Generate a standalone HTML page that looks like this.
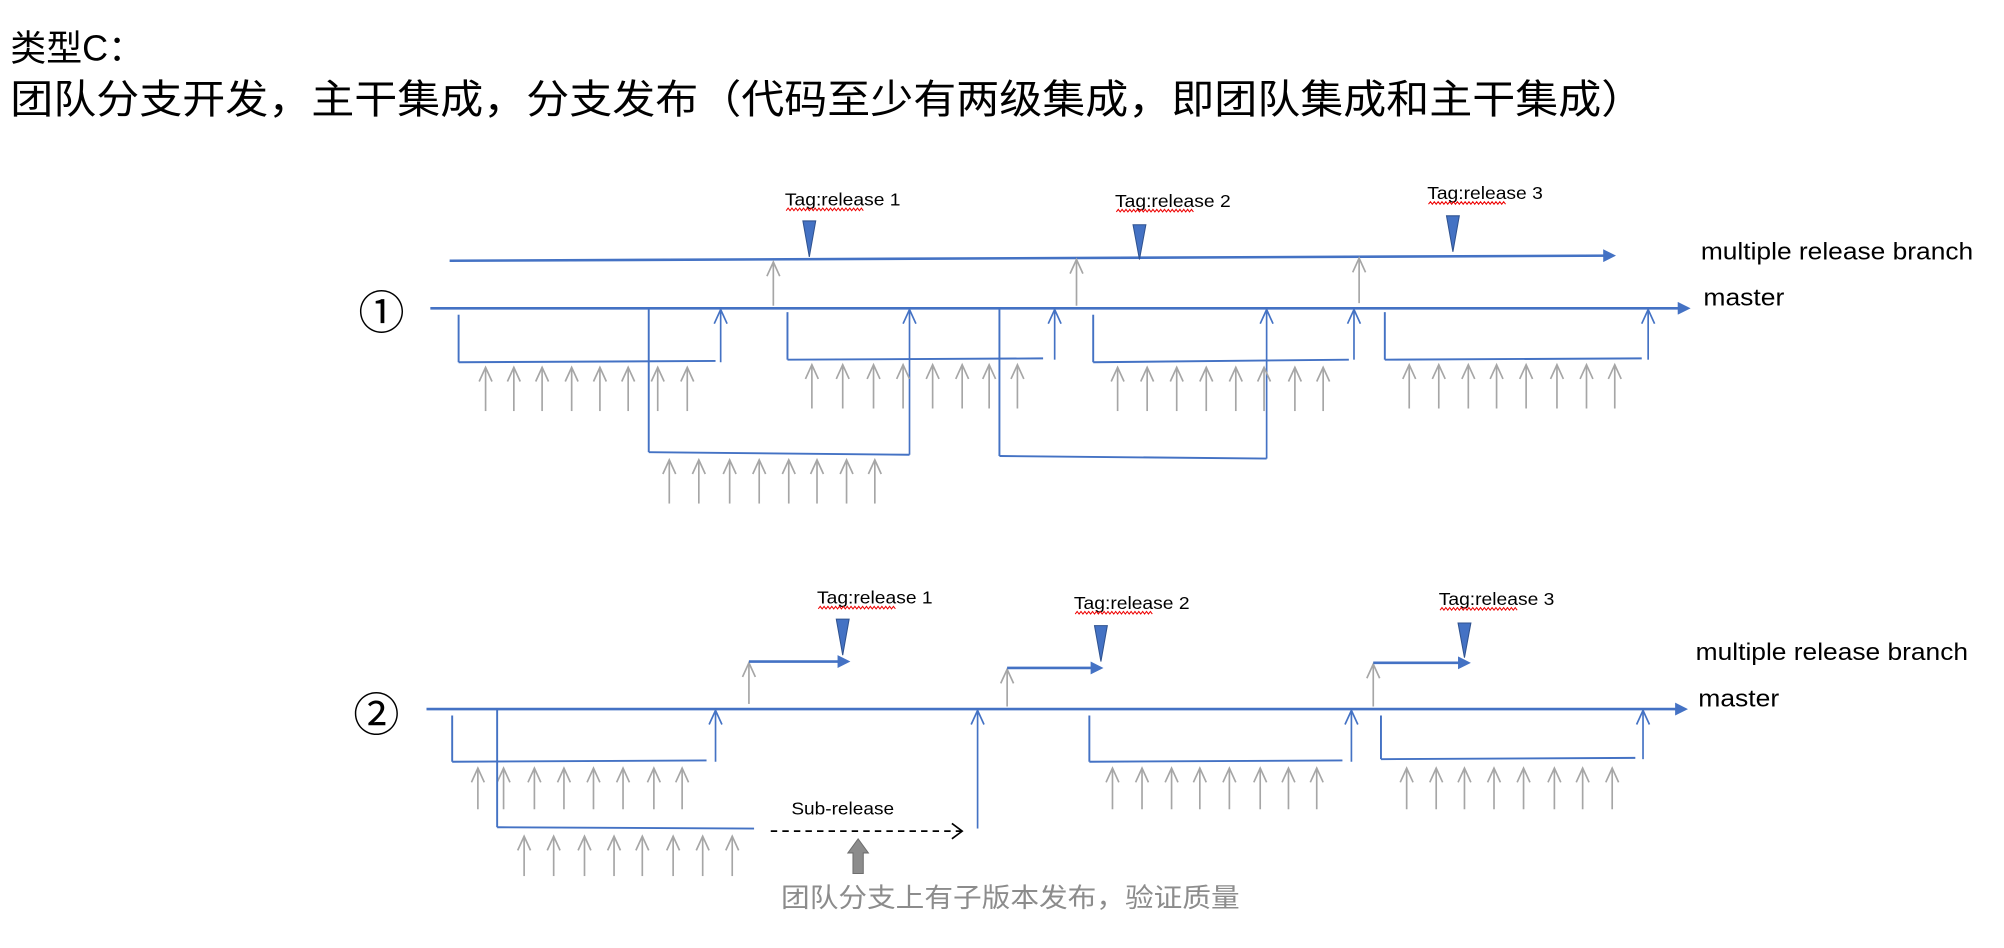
<!DOCTYPE html>
<html><head><meta charset="utf-8"><style>
html,body{margin:0;padding:0;background:#fff;}
svg{display:block;}
text{font-family:"Liberation Sans","Noto Sans CJK SC",sans-serif;}
</style></head><body>
<svg id="s" width="2004" height="948" viewBox="0 0 1560 738" preserveAspectRatio="none" xmlns="http://www.w3.org/2000/svg">
<defs>
<marker id="tri" markerWidth="10" markerHeight="10" refX="7" refY="5" orient="auto" markerUnits="userSpaceOnUse"><path d="M0,0 L10,5 L0,10 z" fill="#4472C4"/></marker>
</defs>
<text x="8" y="47" font-size="28">类型C：</text>
<text x="8" y="88" font-size="31" textLength="1272" lengthAdjust="spacingAndGlyphs">团队分支开发，主干集成，分支发布（代码至少有两级集成，即团队集成和主干集成）</text>

<text x="279" y="256" font-size="36">①</text>
<text x="275" y="569" font-size="36">②</text>

<g font-size="14" fill="#000">
<text x="611" y="160" textLength="90" lengthAdjust="spacingAndGlyphs">Tag:release 1</text>
<text x="868" y="161" textLength="90" lengthAdjust="spacingAndGlyphs">Tag:release 2</text>
<text x="1111" y="155" textLength="90" lengthAdjust="spacingAndGlyphs">Tag:release 3</text>
<text x="636" y="470" textLength="90" lengthAdjust="spacingAndGlyphs">Tag:release 1</text>
<text x="836" y="474" textLength="90" lengthAdjust="spacingAndGlyphs">Tag:release 2</text>
<text x="1120" y="471" textLength="90" lengthAdjust="spacingAndGlyphs">Tag:release 3</text>
<text x="616" y="634" textLength="80" lengthAdjust="spacingAndGlyphs">Sub-release</text>
</g>
<g font-size="19" fill="#000">
<text x="1324" y="202" textLength="212" lengthAdjust="spacingAndGlyphs">multiple release branch</text>
<text x="1326" y="238" textLength="63" lengthAdjust="spacingAndGlyphs">master</text>
<text x="1320" y="514" textLength="212" lengthAdjust="spacingAndGlyphs">multiple release branch</text>
<text x="1322" y="550" textLength="63" lengthAdjust="spacingAndGlyphs">master</text>
</g>
<text x="608" y="706" font-size="21" fill="#8c8c8c" textLength="357" lengthAdjust="spacingAndGlyphs">团队分支上有子版本发布，验证质量</text>

<g id="g"></g>
</svg>
<script>
var g=document.getElementById('g'),NS="http://www.w3.org/2000/svg";
function el(t,a){var e=document.createElementNS(NS,t);for(var k in a)e.setAttribute(k,a[k]);g.appendChild(e);return e;}
var B="#4472C4",G="#a6a6a6";
function line(x1,y1,x2,y2,c,w,extra){var a={x1:x1,y1:y1,x2:x2,y2:y2,stroke:c,'stroke-width':w||1.5};for(var k in extra)a[k]=extra[k];return el('line',a);}
function up(x,y1,y2,c){line(x,y1,x,y2,c,1.3);el('path',{d:'M'+(x-5)+','+(y2+11)+' L'+x+','+y2+' L'+(x+5)+','+(y2+11),fill:'none',stroke:c,'stroke-width':1.3});}
function grays(xs,y1,y2){xs.forEach(function(x){up(x,y1,y2,G);});}
function wavy(x,y,w){var d='M'+x+','+y;for(var i=0;i<w;i+=3)d+=' l1.5,-2 l1.5,2';el('path',{d:d,fill:'none',stroke:'#e00','stroke-width':0.8});}
function tri(x,y1,y2){el('path',{d:'M'+(x-5)+','+y1+' L'+(x+5)+','+y1+' L'+x+','+y2+' z',fill:B,stroke:'#2f528f','stroke-width':0.8});}
wavy(612,164,60);wavy(869,165,60);wavy(1112,159,60);wavy(637,474,60);wavy(837,478,60);wavy(1121,475,60);
// diagram 1
line(350,203,1255,199,B,2,{'marker-end':'url(#tri)'});
line(335,240,1313,240,B,2,{'marker-end':'url(#tri)'});
tri(630,172,200);tri(887,175,202);tri(1131,168,196);
up(602,238,204,G);up(838,238,202,G);up(1058,236,201,G);
line(357,245,357,282,B);line(357,282,557,281,B);up(561,282,241,B);
grays([378,400,422,445,467,489,512,535],320,286);
line(505,240,505,352,B);line(505,352,708,354,B);up(708,354,241,B);
grays([521,544,568,591,614,636,659,681],392,358);
line(613,243,613,280,B);line(613,280,812,279,B);up(821,280,241,B);
grays([632,656,680,703,726,749,770,792],318,284);
line(778,240,778,355,B);line(778,355,986,357,B);up(986,357,241,B);
line(851,245,851,282,B);line(851,282,1050,280,B);up(1054,280,241,B);
grays([870,893,916,939,962,984,1008,1030],320,286);
line(1078,243,1078,280,B);line(1078,280,1278,279,B);up(1283,280,241,B);
grays([1097,1120,1143,1165,1188,1212,1235,1257],318,284);
// diagram 2
line(332,552,1311,552,B,2,{'marker-end':'url(#tri)'});
tri(656,482,510);tri(857,487,515);tri(1140,485,512);
up(583,548,516,G);line(583,515,659,515,B,2,{'marker-end':'url(#tri)'});
up(784,550,521,G);line(784,520,856,520,B,2,{'marker-end':'url(#tri)'});
up(1069,550,517,G);line(1069,516,1142,516,B,2,{'marker-end':'url(#tri)'});
line(352,557,352,593,B);line(352,593,550,592,B);up(557,593,553,B);
grays([372,392,416,439,462,485,509,531],630,598);
line(387,552,387,644,B);line(387,644,587,645,B);
line(600,647,748,647,'#000',1.3,{'stroke-dasharray':'5,4'});
el('path',{d:'M741,641 L749,647 L741,653',fill:'none',stroke:'#000','stroke-width':1.3});
up(761,645,553,B);
grays([408,431,455,478,500,524,547,570],682,651);
el('path',{d:'M664,680 L664,664 L660,664 L668,653 L676,664 L672,664 L672,680 z',fill:'#8c8c8c',stroke:'#6e6e6e','stroke-width':0.8});
line(848,557,848,593,B);line(848,593,1045,592,B);up(1052,593,553,B);
grays([866,889,912,934,957,981,1003,1025],630,598);
line(1075,557,1075,591,B);line(1075,591,1273,590,B);up(1279,591,553,B);
grays([1095,1118,1140,1163,1186,1210,1232,1255],630,598);
</script>
</body></html>
